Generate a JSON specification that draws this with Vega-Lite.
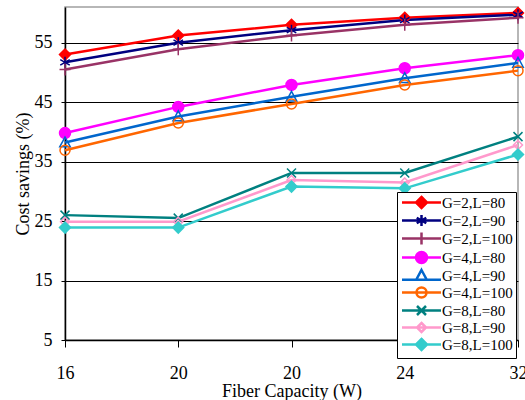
{
  "$schema": "https://vega.github.io/schema/vega-lite/v6.json",
  "width": 453,
  "height": 333,
  "autosize": {"type": "none"},
  "padding": {"left": 65, "top": 7, "right": 7, "bottom": 60},
  "background": "white",
  "config": {
    "font": "Liberation Serif",
    "view": {"stroke": "#A0A0A0", "strokeWidth": 1.5}
  },
  "data": {
    "values": [
      {"series": "G=2,L=80", "pos": 0, "value": 53.0},
      {"series": "G=2,L=80", "pos": 1, "value": 56.2},
      {"series": "G=2,L=80", "pos": 2, "value": 58.0},
      {"series": "G=2,L=80", "pos": 3, "value": 59.2},
      {"series": "G=2,L=80", "pos": 4, "value": 60.0},
      {"series": "G=2,L=90", "pos": 0, "value": 51.7},
      {"series": "G=2,L=90", "pos": 1, "value": 55.0},
      {"series": "G=2,L=90", "pos": 2, "value": 57.1},
      {"series": "G=2,L=90", "pos": 3, "value": 58.8},
      {"series": "G=2,L=90", "pos": 4, "value": 59.7},
      {"series": "G=2,L=100", "pos": 0, "value": 50.5},
      {"series": "G=2,L=100", "pos": 1, "value": 53.9},
      {"series": "G=2,L=100", "pos": 2, "value": 56.2},
      {"series": "G=2,L=100", "pos": 3, "value": 58.0},
      {"series": "G=2,L=100", "pos": 4, "value": 59.2},
      {"series": "G=4,L=80", "pos": 0, "value": 39.8},
      {"series": "G=4,L=80", "pos": 1, "value": 44.2},
      {"series": "G=4,L=80", "pos": 2, "value": 47.9},
      {"series": "G=4,L=80", "pos": 3, "value": 50.7},
      {"series": "G=4,L=80", "pos": 4, "value": 52.9},
      {"series": "G=4,L=90", "pos": 0, "value": 38.2},
      {"series": "G=4,L=90", "pos": 1, "value": 42.6},
      {"series": "G=4,L=90", "pos": 2, "value": 45.9},
      {"series": "G=4,L=90", "pos": 3, "value": 49.0},
      {"series": "G=4,L=90", "pos": 4, "value": 51.6},
      {"series": "G=4,L=100", "pos": 0, "value": 36.9},
      {"series": "G=4,L=100", "pos": 1, "value": 41.5},
      {"series": "G=4,L=100", "pos": 2, "value": 44.7},
      {"series": "G=4,L=100", "pos": 3, "value": 47.9},
      {"series": "G=4,L=100", "pos": 4, "value": 50.3},
      {"series": "G=8,L=80", "pos": 0, "value": 26.0},
      {"series": "G=8,L=80", "pos": 1, "value": 25.5},
      {"series": "G=8,L=80", "pos": 2, "value": 33.1},
      {"series": "G=8,L=80", "pos": 3, "value": 33.1},
      {"series": "G=8,L=80", "pos": 4, "value": 39.2},
      {"series": "G=8,L=90", "pos": 0, "value": 24.9},
      {"series": "G=8,L=90", "pos": 1, "value": 24.9},
      {"series": "G=8,L=90", "pos": 2, "value": 31.9},
      {"series": "G=8,L=90", "pos": 3, "value": 31.5},
      {"series": "G=8,L=90", "pos": 4, "value": 37.8},
      {"series": "G=8,L=100", "pos": 0, "value": 23.9},
      {"series": "G=8,L=100", "pos": 1, "value": 23.9},
      {"series": "G=8,L=100", "pos": 2, "value": 30.8},
      {"series": "G=8,L=100", "pos": 3, "value": 30.5},
      {"series": "G=8,L=100", "pos": 4, "value": 36.2}
    ]
  },
  "encoding": {
    "x": {
      "field": "pos",
      "type": "quantitative",
      "scale": {"domain": [0, 4], "nice": false, "zero": false},
      "axis": {
        "title": "Fiber Capacity (W)",
        "values": [0, 1, 2, 3, 4],
        "labelExpr": "['16','20','20','24','32'][datum.value]",
        "grid": false,
        "domainColor": "black",
        "domainWidth": 1.5,
        "tickColor": "black",
        "tickSize": 7,
        "labelFontSize": 18,
        "labelColor": "black",
        "labelPadding": 17,
        "titleFontSize": 18,
        "titleFontWeight": "normal",
        "titleColor": "black",
        "titlePadding": 0,
        "labelFlush": false
      }
    },
    "y": {
      "field": "value",
      "type": "quantitative",
      "scale": {"domain": [5, 61], "nice": false, "zero": false},
      "axis": {
        "title": "Cost savings (%)",
        "values": [5, 15, 25, 35, 45, 55],
        "grid": true,
        "gridColor": "black",
        "gridWidth": 1,
        "gridOpacity": 1,
        "domainColor": "black",
        "domainWidth": 1.5,
        "tickColor": "black",
        "tickSize": 4,
        "labelFontSize": 18,
        "labelColor": "black",
        "labelPadding": 9,
        "titleFontSize": 18,
        "titleFontWeight": "normal",
        "titleColor": "black",
        "titlePadding": 2
      }
    },
    "stroke": {
      "field": "series",
      "type": "nominal",
      "scale": {
        "domain": ["G=2,L=80", "G=2,L=90", "G=2,L=100", "G=4,L=80", "G=4,L=90", "G=4,L=100", "G=8,L=80", "G=8,L=90", "G=8,L=100"],
        "range": ["#FF0000", "#000080", "#993366", "#FF00FF", "#0066CC", "#FF6600", "#008080", "#FF99CC", "#33CCCC"]
      },
      "legend": {
        "title": null, "orient": "none", "legendX": 332, "legendY": 185, "padding": 3,
        "strokeColor": "black", "fillColor": "white", "labelFont": "Liberation Serif",
        "labelFontSize": 15, "labelColor": "black", "labelLimit": 200, "symbolSize": 100,
        "symbolStrokeWidth": 2.5, "symbolOpacity": 1, "symbolOffset": 14, "labelOffset": 13, "rowPadding": -8
      }
    }
  },
  "layer": [
    {
      "mark": {"type": "line", "strokeWidth": 2.5}
    },
    {
      "encoding": {
        "fill": {
          "field": "series",
          "type": "nominal",
          "scale": {
            "domain": ["G=2,L=80", "G=2,L=90", "G=2,L=100", "G=4,L=80", "G=4,L=90", "G=4,L=100", "G=8,L=80", "G=8,L=90", "G=8,L=100"],
            "range": ["#FF0000", "transparent", "transparent", "#FF00FF", "transparent", "transparent", "transparent", "transparent", "#33CCCC"]
          },
          "legend": {
            "title": null, "orient": "none", "legendX": 332, "legendY": 185, "padding": 3,
            "strokeColor": "black", "fillColor": "white", "labelFont": "Liberation Serif",
            "labelFontSize": 15, "labelColor": "black", "labelLimit": 200, "symbolSize": 100,
            "symbolStrokeWidth": 2.5, "symbolOpacity": 1, "symbolOffset": 14, "labelOffset": 13, "rowPadding": -8
          }
        }
      },
      "layer": [
        {
          "transform": [{"filter": "datum.series === 'G=2,L=80'"}],
          "mark": {"type": "point", "size": 100, "strokeWidth": 1.5, "opacity": 1, "shape": "M0,-1.1L1.1,0L0,1.1L-1.1,0Z"}
        },
        {
          "transform": [{"filter": "datum.series === 'G=2,L=90'"}],
          "mark": {"type": "point", "size": 100, "strokeWidth": 1.5, "opacity": 1, "shape": "M0,-1.1L0,1.1M-0.95,-0.55L0.95,0.55M-0.95,0.55L0.95,-0.55"}
        },
        {
          "transform": [{"filter": "datum.series === 'G=2,L=100'"}],
          "mark": {"type": "point", "size": 100, "strokeWidth": 1.5, "opacity": 1, "shape": "M0,-1.2L0,1.2M-1.1,0L1.1,0"}
        },
        {
          "transform": [{"filter": "datum.series === 'G=4,L=80'"}],
          "mark": {"type": "point", "size": 100, "strokeWidth": 1.5, "opacity": 1, "shape": "M-1.1,0A1.1,1.1 0 1,0 1.1,0A1.1,1.1 0 1,0 -1.1,0Z"}
        },
        {
          "transform": [{"filter": "datum.series === 'G=4,L=90'"}],
          "mark": {"type": "point", "size": 100, "strokeWidth": 1.5, "opacity": 1, "shape": "M0,-1.1L1.05,0.85L-1.05,0.85Z"}
        },
        {
          "transform": [{"filter": "datum.series === 'G=4,L=100'"}],
          "mark": {"type": "point", "size": 100, "strokeWidth": 1.5, "opacity": 1, "shape": "M-1,0A1,1 0 1,0 1,0A1,1 0 1,0 -1,0Z"}
        },
        {
          "transform": [{"filter": "datum.series === 'G=8,L=80'"}],
          "mark": {"type": "point", "size": 100, "strokeWidth": 1.5, "opacity": 1, "shape": "M-0.9,-0.9L0.9,0.9M-0.9,0.9L0.9,-0.9"}
        },
        {
          "transform": [{"filter": "datum.series === 'G=8,L=90'"}],
          "mark": {"type": "point", "size": 100, "strokeWidth": 1.5, "opacity": 1, "shape": "M0,-0.9L0.9,0L0,0.9L-0.9,0Z"}
        },
        {
          "transform": [{"filter": "datum.series === 'G=8,L=100'"}],
          "mark": {"type": "point", "size": 100, "strokeWidth": 1.5, "opacity": 1, "shape": "M0,-1.1L1.1,0L0,1.1L-1.1,0Z"}
        },
        {
          "mark": {"type": "point", "size": 100, "strokeWidth": 2.5, "opacity": 0},
          "encoding": {
            "shape": {
              "field": "series",
              "type": "nominal",
              "scale": {
                "domain": ["G=2,L=80", "G=2,L=90", "G=2,L=100", "G=4,L=80", "G=4,L=90", "G=4,L=100", "G=8,L=80", "G=8,L=90", "G=8,L=100"],
                "range": [
                  "M-3.9,0L3.9,0M0,-1.1L1.1,0L0,1.1L-1.1,0Z",
                  "M-3.9,0L3.9,0M0,-1.1L0,1.1M-0.95,-0.55L0.95,0.55M-0.95,0.55L0.95,-0.55",
                  "M-3.9,0L3.9,0M0,-1.2L0,1.2",
                  "M-3.9,0L3.9,0M-1.1,0A1.1,1.1 0 1,0 1.1,0A1.1,1.1 0 1,0 -1.1,0Z",
                  "M-3.9,0.85L3.9,0.85M0,-1.1L1.05,0.85L-1.05,0.85Z",
                  "M-3.9,0L3.9,0M-1,0A1,1 0 1,0 1,0A1,1 0 1,0 -1,0Z",
                  "M-3.9,0L3.9,0M-0.9,-0.9L0.9,0.9M-0.9,0.9L0.9,-0.9",
                  "M-3.9,0L3.9,0M0,-0.9L0.9,0L0,0.9L-0.9,0Z",
                  "M-3.9,0L3.9,0M0,-1.1L1.1,0L0,1.1L-1.1,0Z"
                ]
              },
              "legend": {
                "title": null, "orient": "none", "legendX": 332, "legendY": 185, "padding": 3,
                "strokeColor": "black", "fillColor": "white", "labelFont": "Liberation Serif",
                "labelFontSize": 15, "labelColor": "black", "labelLimit": 200, "symbolSize": 100,
                "symbolStrokeWidth": 2.5, "symbolOpacity": 1, "symbolOffset": 14, "labelOffset": 13, "rowPadding": -8
              }
            }
          }
        }
      ]
    }
  ]
}
